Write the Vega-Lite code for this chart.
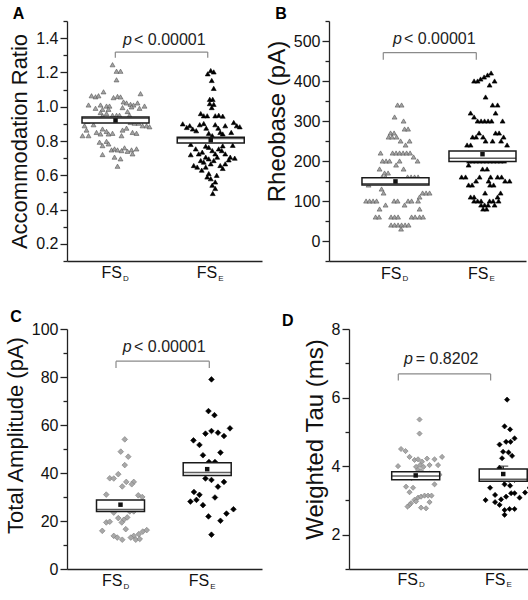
{
"$schema": "https://vega.github.io/schema/vega-lite/v6.json",
"padding": {"left": 4, "top": 6, "right": 0, "bottom": 0},
"config": {
 "font": "Liberation Sans",
 "view": {"stroke": null},
 "axis": {"grid": false, "domainColor": "#222222", "domainWidth": 1.3, "tickColor": "#222222", "tickWidth": 1.3, "labelColor": "#111111", "labelFontSize": 16, "labelPadding": 2, "titleColor": "#111111", "titleFontWeight": "normal", "titlePadding": 4, "labelOverlap": false, "labelFlush": false},
 "axisY": {"tickCount": 100},
 "title": {"anchor": "start", "frame": "bounds", "fontSize": 16, "fontWeight": "bold", "color": "#000000"},
 "text": {"font": "Liberation Sans", "color": "#222222"}
},
"datasets": {
 "A": [
{"g":"D","v":1.245,"j":-3},{"g":"D","v":1.207,"j":1},{"g":"D","v":1.207,"j":5},{"g":"D","v":1.157,"j":1},{"g":"D","v":1.087,"j":-12},{"g":"D","v":1.076,"j":25},{"g":"D","v":1.064,"j":-24},{"g":"D","v":1.058,"j":-20},{"g":"D","v":1.064,"j":-17},{"g":"D","v":1.053,"j":-2},{"g":"D","v":1.06,"j":2},{"g":"D","v":1.057,"j":5},{"g":"D","v":1.028,"j":8},{"g":"D","v":1.022,"j":11},{"g":"D","v":1.014,"j":15},{"g":"D","v":1.01,"j":18},{"g":"D","v":1.022,"j":22},{"g":"D","v":1.01,"j":-27},{"g":"D","v":1.01,"j":-15},{"g":"D","v":1.004,"j":-9},{"g":"D","v":1.004,"j":-6},{"g":"D","v":0.991,"j":-20},{"g":"D","v":0.985,"j":-13},{"g":"D","v":0.985,"j":-7},{"g":"D","v":0.995,"j":7},{"g":"D","v":0.999,"j":16},{"g":"D","v":1.004,"j":29},{"g":"D","v":0.991,"j":24},{"g":"D","v":0.966,"j":-15},{"g":"D","v":0.972,"j":12},{"g":"D","v":0.947,"j":-13},{"g":"D","v":0.95,"j":-3},{"g":"D","v":0.95,"j":1},{"g":"D","v":0.95,"j":4},{"g":"D","v":0.95,"j":14},{"g":"D","v":0.96,"j":-9},{"g":"D","v":0.908,"j":15},{"g":"D","v":0.904,"j":19},{"g":"D","v":0.904,"j":23},{"g":"D","v":0.889,"j":27},{"g":"D","v":0.889,"j":31},{"g":"D","v":0.895,"j":-22},{"g":"D","v":0.864,"j":-29},{"g":"D","v":0.831,"j":-33},{"g":"D","v":0.831,"j":-27},{"g":"D","v":0.85,"j":-19},{"g":"D","v":0.841,"j":-15},{"g":"D","v":0.87,"j":-13},{"g":"D","v":0.856,"j":-9},{"g":"D","v":0.841,"j":-7},{"g":"D","v":0.845,"j":-3},{"g":"D","v":0.864,"j":7},{"g":"D","v":0.875,"j":11},{"g":"D","v":0.85,"j":17},{"g":"D","v":0.845,"j":21},{"g":"D","v":0.831,"j":6},{"g":"D","v":0.793,"j":-16},{"g":"D","v":0.798,"j":-9},{"g":"D","v":0.783,"j":-7},{"g":"D","v":0.773,"j":-13},{"g":"D","v":0.748,"j":-4},{"g":"D","v":0.754,"j":-1},{"g":"D","v":0.748,"j":2},{"g":"D","v":0.744,"j":6},{"g":"D","v":0.76,"j":9},{"g":"D","v":0.74,"j":12},{"g":"D","v":0.748,"j":16},{"g":"D","v":0.754,"j":21},{"g":"D","v":0.725,"j":17},{"g":"D","v":0.721,"j":-13},{"g":"D","v":0.706,"j":-1},{"g":"D","v":0.696,"j":5},{"g":"D","v":0.653,"j":2},{"g":"D","v":0.915,"j":-28},{"g":"D","v":0.92,"j":30},{"g":"D","v":0.889,"j":-31},{"g":"D","v":0.883,"j":34},
{"g":"E","v":1.211,"j":0},{"g":"E","v":1.192,"j":-3},{"g":"E","v":1.203,"j":3},{"g":"E","v":1.153,"j":1},{"g":"E","v":1.107,"j":3},{"g":"E","v":1.043,"j":2},{"g":"E","v":1.018,"j":-1},{"g":"E","v":1.014,"j":3},{"g":"E","v":0.995,"j":1},{"g":"E","v":1.043,"j":-1},{"g":"E","v":0.947,"j":-7},{"g":"E","v":0.947,"j":-3.5},{"g":"E","v":0.947,"j":4.5},{"g":"E","v":0.95,"j":8},{"g":"E","v":0.945,"j":12},{"g":"E","v":0.96,"j":-10},{"g":"E","v":0.889,"j":-21},{"g":"E","v":0.87,"j":-18},{"g":"E","v":0.895,"j":-11},{"g":"E","v":0.902,"j":-7},{"g":"E","v":0.875,"j":-4.5},{"g":"E","v":0.895,"j":4.5},{"g":"E","v":0.875,"j":7.5},{"g":"E","v":0.889,"j":14.5},{"g":"E","v":0.908,"j":23},{"g":"E","v":0.889,"j":26},{"g":"E","v":0.883,"j":29},{"g":"E","v":0.85,"j":9.5},{"g":"E","v":0.841,"j":12},{"g":"E","v":0.85,"j":20.5},{"g":"E","v":0.831,"j":1.5},{"g":"E","v":0.845,"j":-2},{"g":"E","v":0.86,"j":-14.5},{"g":"E","v":0.879,"j":-24},{"g":"E","v":0.9,"j":-28},{"g":"E","v":0.763,"j":-2},{"g":"E","v":0.754,"j":-15},{"g":"E","v":0.754,"j":8},{"g":"E","v":0.744,"j":1.5},{"g":"E","v":0.744,"j":11},{"g":"E","v":0.735,"j":-8.5},{"g":"E","v":0.725,"j":-12},{"g":"E","v":0.725,"j":4.5},{"g":"E","v":0.725,"j":14.5},{"g":"E","v":0.706,"j":-5},{"g":"E","v":0.706,"j":6.5},{"g":"E","v":0.706,"j":19.5},{"g":"E","v":0.696,"j":-2},{"g":"E","v":0.69,"j":18},{"g":"E","v":0.686,"j":-10},{"g":"E","v":0.686,"j":3},{"g":"E","v":0.677,"j":-7},{"g":"E","v":0.667,"j":0},{"g":"E","v":0.667,"j":14.5},{"g":"E","v":0.657,"j":-17},{"g":"E","v":0.657,"j":9.5},{"g":"E","v":0.648,"j":-13.5},{"g":"E","v":0.648,"j":-5},{"g":"E","v":0.59,"j":-3.5},{"g":"E","v":0.58,"j":0},{"g":"E","v":0.561,"j":4.5},{"g":"E","v":0.542,"j":1.5},{"g":"E","v":0.523,"j":4.5},{"g":"E","v":0.494,"j":2},{"g":"E","v":0.78,"j":-20},{"g":"E","v":0.775,"j":22},{"g":"E","v":0.77,"j":-5},{"g":"E","v":0.772,"j":12},{"g":"E","v":0.72,"j":-20},{"g":"E","v":0.7,"j":24},{"g":"E","v":0.64,"j":12},{"g":"E","v":0.63,"j":-9},{"g":"E","v":0.6,"j":6},{"g":"E","v":0.61,"j":-2}
 ],
 "B": [
{"g":"D","v":340,"j":-2},{"g":"D","v":340,"j":2},{"g":"D","v":310,"j":-5},{"g":"D","v":300,"j":4},{"g":"D","v":280,"j":5},{"g":"D","v":280,"j":8.5},{"g":"D","v":270,"j":-9},{"g":"D","v":270,"j":-5.5},{"g":"D","v":260,"j":-11},{"g":"D","v":260,"j":-7.5},{"g":"D","v":260,"j":-3},{"g":"D","v":250,"j":1},{"g":"D","v":250,"j":10},{"g":"D","v":240,"j":6},{"g":"D","v":220,"j":-19},{"g":"D","v":220,"j":-7},{"g":"D","v":220,"j":-3.5},{"g":"D","v":220,"j":0},{"g":"D","v":220,"j":3.5},{"g":"D","v":220,"j":7},{"g":"D","v":220,"j":10.5},{"g":"D","v":210,"j":14},{"g":"D","v":200,"j":-17},{"g":"D","v":200,"j":-13.5},{"g":"D","v":200,"j":-10},{"g":"D","v":200,"j":0},{"g":"D","v":200,"j":18},{"g":"D","v":190,"j":-3.5},{"g":"D","v":180,"j":-20},{"g":"D","v":180,"j":4},{"g":"D","v":170,"j":-15},{"g":"D","v":170,"j":-11.5},{"g":"D","v":160,"j":-17.5},{"g":"D","v":160,"j":-14},{"g":"D","v":160,"j":8},{"g":"D","v":160,"j":11.5},{"g":"D","v":160,"j":15},{"g":"D","v":160,"j":18.5},{"g":"D","v":140,"j":-31},{"g":"D","v":130,"j":-18},{"g":"D","v":120,"j":-16},{"g":"D","v":120,"j":23},{"g":"D","v":120,"j":26.5},{"g":"D","v":120,"j":30},{"g":"D","v":110,"j":20},{"g":"D","v":100,"j":-33.5},{"g":"D","v":100,"j":-30},{"g":"D","v":100,"j":-26.5},{"g":"D","v":100,"j":-23},{"g":"D","v":100,"j":-5.5},{"g":"D","v":100,"j":-2},{"g":"D","v":100,"j":8.5},{"g":"D","v":100,"j":12},{"g":"D","v":100,"j":18.5},{"g":"D","v":90,"j":-14},{"g":"D","v":90,"j":5},{"g":"D","v":80,"j":-20},{"g":"D","v":80,"j":20},{"g":"D","v":60,"j":-24},{"g":"D","v":60,"j":-20.5},{"g":"D","v":60,"j":-8.5},{"g":"D","v":60,"j":-5},{"g":"D","v":60,"j":-1.5},{"g":"D","v":60,"j":12},{"g":"D","v":60,"j":15.5},{"g":"D","v":60,"j":20},{"g":"D","v":60,"j":23.5},{"g":"D","v":40,"j":-8.5},{"g":"D","v":40,"j":-5},{"g":"D","v":40,"j":-1.5},{"g":"D","v":40,"j":2},{"g":"D","v":40,"j":5.5},{"g":"D","v":40,"j":9},{"g":"D","v":30,"j":1.5},
{"g":"E","v":420,"j":4.5},{"g":"E","v":415,"j":1},{"g":"E","v":410,"j":-2.5},{"g":"E","v":405,"j":-6},{"g":"E","v":400,"j":-9},{"g":"E","v":400,"j":-12.5},{"g":"E","v":400,"j":8},{"g":"E","v":390,"j":3},{"g":"E","v":360,"j":-1},{"g":"E","v":340,"j":6},{"g":"E","v":340,"j":11},{"g":"E","v":320,"j":-16},{"g":"E","v":320,"j":9},{"g":"E","v":310,"j":-12.5},{"g":"E","v":300,"j":-9},{"g":"E","v":300,"j":-5.5},{"g":"E","v":300,"j":-2},{"g":"E","v":300,"j":1.5},{"g":"E","v":300,"j":5},{"g":"E","v":300,"j":16},{"g":"E","v":270,"j":-7.5},{"g":"E","v":270,"j":9},{"g":"E","v":270,"j":12.5},{"g":"E","v":260,"j":-14},{"g":"E","v":260,"j":-10.5},{"g":"E","v":260,"j":-3.5},{"g":"E","v":260,"j":17},{"g":"E","v":250,"j":-1},{"g":"E","v":250,"j":6},{"g":"E","v":250,"j":14.5},{"g":"E","v":240,"j":-19.5},{"g":"E","v":240,"j":-16},{"g":"E","v":240,"j":20.5},{"g":"E","v":220,"j":-18},{"g":"E","v":200,"j":-17.5},{"g":"E","v":200,"j":-14},{"g":"E","v":200,"j":-10.5},{"g":"E","v":200,"j":-7},{"g":"E","v":200,"j":-3.5},{"g":"E","v":200,"j":0},{"g":"E","v":200,"j":3.5},{"g":"E","v":200,"j":7},{"g":"E","v":200,"j":10.5},{"g":"E","v":200,"j":14},{"g":"E","v":200,"j":17.5},{"g":"E","v":190,"j":-18},{"g":"E","v":180,"j":-4},{"g":"E","v":180,"j":0.5},{"g":"E","v":160,"j":-25},{"g":"E","v":160,"j":-21},{"g":"E","v":160,"j":-7},{"g":"E","v":160,"j":4},{"g":"E","v":160,"j":11},{"g":"E","v":160,"j":15},{"g":"E","v":150,"j":-10.5},{"g":"E","v":150,"j":2},{"g":"E","v":150,"j":18.5},{"g":"E","v":150,"j":23},{"g":"E","v":140,"j":-18},{"g":"E","v":140,"j":-14.5},{"g":"E","v":140,"j":3.5},{"g":"E","v":140,"j":7},{"g":"E","v":120,"j":-1.5},{"g":"E","v":120,"j":14},{"g":"E","v":110,"j":-16},{"g":"E","v":110,"j":-12.5},{"g":"E","v":110,"j":11},{"g":"E","v":100,"j":-12.5},{"g":"E","v":100,"j":-9},{"g":"E","v":100,"j":-5.5},{"g":"E","v":100,"j":3},{"g":"E","v":100,"j":6.5},{"g":"E","v":100,"j":12},{"g":"E","v":90,"j":-5.5},{"g":"E","v":90,"j":-2},{"g":"E","v":90,"j":1.5},{"g":"E","v":90,"j":8},{"g":"E","v":80,"j":-3.5},{"g":"E","v":80,"j":0}
 ],
 "C": [
{"g":"D","v":54,"j":0},{"g":"D","v":48.9,"j":-4},{"g":"D","v":46.8,"j":3.5},{"g":"D","v":43.3,"j":0},{"g":"D","v":37.8,"j":-15},{"g":"D","v":37.7,"j":-11},{"g":"D","v":39.5,"j":-6.5},{"g":"D","v":36.3,"j":1.5},{"g":"D","v":36.3,"j":9},{"g":"D","v":35.3,"j":7},{"g":"D","v":34.4,"j":-2.5},{"g":"D","v":31,"j":-18.5},{"g":"D","v":30.7,"j":13.5},{"g":"D","v":30,"j":17.5},{"g":"D","v":23.5,"j":-11},{"g":"D","v":24,"j":5},{"g":"D","v":24,"j":9},{"g":"D","v":21.2,"j":-6.5},{"g":"D","v":20.5,"j":-1},{"g":"D","v":21.5,"j":2.5},{"g":"D","v":19.4,"j":-18.5},{"g":"D","v":19.7,"j":-15},{"g":"D","v":19.4,"j":-3},{"g":"D","v":15.9,"j":-22.5},{"g":"D","v":16.6,"j":1},{"g":"D","v":13.8,"j":-11},{"g":"D","v":13.1,"j":-7.5},{"g":"D","v":12.2,"j":-2.5},{"g":"D","v":13.8,"j":9},{"g":"D","v":13.1,"j":6},{"g":"D","v":14.5,"j":14},{"g":"D","v":15.6,"j":18},{"g":"D","v":16.2,"j":22},{"g":"D","v":12.2,"j":11},{"g":"D","v":12.5,"j":15},
{"g":"E","v":79,"j":0},{"g":"E","v":65.8,"j":-3},{"g":"E","v":64.1,"j":3},{"g":"E","v":58.6,"j":18.5},{"g":"E","v":56.4,"j":-6},{"g":"E","v":57.5,"j":0},{"g":"E","v":56.8,"j":6.5},{"g":"E","v":55.4,"j":12.5},{"g":"E","v":53.6,"j":-18},{"g":"E","v":51.7,"j":-12},{"g":"E","v":47.4,"j":-8.5},{"g":"E","v":48.5,"j":9},{"g":"E","v":44.6,"j":-2.5},{"g":"E","v":44.6,"j":3.5},{"g":"E","v":37.7,"j":-6},{"g":"E","v":37.1,"j":0},{"g":"E","v":34.3,"j":6.5},{"g":"E","v":36.3,"j":12.5},{"g":"E","v":32.1,"j":-17.5},{"g":"E","v":30.9,"j":-12},{"g":"E","v":28.1,"j":-21},{"g":"E","v":28.8,"j":-15},{"g":"E","v":29.8,"j":3.5},{"g":"E","v":26.6,"j":-8.5},{"g":"E","v":21.9,"j":-3},{"g":"E","v":20.1,"j":9},{"g":"E","v":23.1,"j":15},{"g":"E","v":24.9,"j":22},{"g":"E","v":14.3,"j":0},{"g":"E","v":41,"j":-13}
 ],
 "D": [
{"g":"D","v":5.36,"j":0},{"g":"D","v":4.95,"j":0},{"g":"D","v":4.5,"j":-18.5},{"g":"D","v":4.44,"j":-14},{"g":"D","v":4.27,"j":-10},{"g":"D","v":4.18,"j":-5},{"g":"D","v":4.2,"j":-1.5},{"g":"D","v":4.13,"j":2.5},{"g":"D","v":4.22,"j":7.5},{"g":"D","v":4.2,"j":15},{"g":"D","v":4.03,"j":18.5},{"g":"D","v":4.27,"j":22.5},{"g":"D","v":4.0,"j":-21.5},{"g":"D","v":3.98,"j":-3.5},{"g":"D","v":4.03,"j":0.5},{"g":"D","v":3.98,"j":4},{"g":"D","v":4.03,"j":10},{"g":"D","v":3.89,"j":-1.5},{"g":"D","v":3.86,"j":1.5},{"g":"D","v":3.47,"j":15},{"g":"D","v":3.4,"j":-13.5},{"g":"D","v":3.37,"j":-6.5},{"g":"D","v":3.24,"j":-10},{"g":"D","v":3.08,"j":-1.5},{"g":"D","v":3.11,"j":1.5},{"g":"D","v":3.14,"j":5},{"g":"D","v":3.14,"j":8.5},{"g":"D","v":3.14,"j":12},{"g":"D","v":3.02,"j":-5},{"g":"D","v":2.92,"j":-8.5},{"g":"D","v":2.87,"j":-10},{"g":"D","v":2.97,"j":-3.5},{"g":"D","v":2.95,"j":10},{"g":"D","v":2.82,"j":-12},{"g":"D","v":2.79,"j":1.5},{"g":"D","v":2.77,"j":6.5},{"g":"D","v":3.7,"j":-20},{"g":"D","v":3.75,"j":20},{"g":"D","v":3.65,"j":-8},{"g":"D","v":3.78,"j":10},
{"g":"E","v":5.94,"j":0},{"g":"E","v":5.16,"j":-2.5},{"g":"E","v":5.07,"j":3},{"g":"E","v":4.81,"j":7.5},{"g":"E","v":4.63,"j":-7.5},{"g":"E","v":4.71,"j":-1},{"g":"E","v":4.71,"j":3.5},{"g":"E","v":4.42,"j":-4},{"g":"E","v":4.4,"j":1.5},{"g":"E","v":4.23,"j":-5},{"g":"E","v":4.3,"j":5},{"g":"E","v":3.95,"j":-7.5},{"g":"E","v":3.6,"j":-3.5},{"g":"E","v":3.6,"j":2},{"g":"E","v":3.6,"j":7.5},{"g":"E","v":3.37,"j":-17},{"g":"E","v":3.47,"j":-2.5},{"g":"E","v":3.43,"j":3},{"g":"E","v":3.37,"j":22.5},{"g":"E","v":3.23,"j":18},{"g":"E","v":3.08,"j":12.5},{"g":"E","v":3.16,"j":-12},{"g":"E","v":3.03,"j":-6},{"g":"E","v":3.11,"j":-1},{"g":"E","v":3.01,"j":-21.5},{"g":"E","v":3.21,"j":4},{"g":"E","v":3.21,"j":7.5},{"g":"E","v":2.87,"j":-7.5},{"g":"E","v":2.72,"j":-2.5},{"g":"E","v":2.75,"j":2.5},{"g":"E","v":2.75,"j":7.5},{"g":"E","v":2.58,"j":-2.5},{"g":"E","v":3.7,"j":-18},{"g":"E","v":3.8,"j":15},{"g":"E","v":3.85,"j":-10},{"g":"E","v":2.95,"j":-12}
 ],
 "Abox": [{"g":"D","lo":0.905,"hi":0.94,"med":0.933,"mean":0.92},{"g":"E","lo":0.788,"hi":0.822,"med":0.815,"mean":0.805}],
 "Bbox": [{"g":"D","lo":140,"hi":158,"med":143,"mean":149},{"g":"E","lo":199,"hi":225,"med":207,"mean":217}],
 "Cbox": [{"g":"D","lo":24,"hi":28.7,"med":24.8,"mean":26.8},{"g":"E","lo":39,"hi":44.3,"med":40.2,"mean":41.6}],
 "Dbox": [{"g":"D","lo":3.6,"hi":3.84,"med":3.71,"mean":3.73},{"g":"E","lo":3.56,"hi":3.92,"med":3.62,"mean":3.77}],
 "grp": [{"g":"D"},{"g":"E"}],
 "one": [{"k":1}]
},
"spacing": 26,
"vconcat": [
 {"spacing": 3, "hconcat": [
  {"width": 195, "height": 240, "title": {"text": "A", "dx": 4, "offset": -9},
   "layer": [
    {"data": {"name": "A"},
     "mark": {"type": "point", "shape": "triangle-up", "filled": true, "size": 24, "strokeWidth": 0.6, "opacity": 1},
     "encoding": {
      "x": {"field": "g", "type": "nominal", "scale": {"type": "band", "domain": ["D","E"], "paddingInner": 0, "paddingOuter": 0.024, "align": 0.2}, "axis": {"title": null, "labels": false, "ticks": false, "domain": true}},
      "xOffset": {"field": "j", "type": "quantitative", "scale": {"domain": [-47.6, 47.6]}},
      "y": {"field": "v", "type": "quantitative", "scale": {"domain": [0.1, 1.5], "nice": false, "zero": false},
        "axis": {"title": "Accommodation Ratio", "titleFontSize": 22, "tickCount": 100, "values": [0.1,0.2,0.3,0.4,0.5,0.6,0.7,0.8,0.9,1.0,1.1,1.2,1.3,1.4,1.5],
          "labelExpr": "abs(datum.value*5 - round(datum.value*5)) < 0.01 ? format(datum.value, '.1f') : ''",
          "tickSize": {"condition": {"test": "abs(datum.value*5 - round(datum.value*5)) < 0.01", "value": 7}, "value": 4}}},
      "fill": {"condition": {"test": "datum.g == 'D'", "value": "#a3a3a3"}, "value": "#000000"},
      "stroke": {"condition": {"test": "datum.g == 'D'", "value": "#555555"}, "value": "#000000"}
     }},
    {"data": {"name": "Abox"}, "mark": {"type": "bar", "width": 67, "fill": "#ffffff", "stroke": "#1a1a1a", "strokeWidth": 1.5},
     "encoding": {"x": {"field": "g", "type": "nominal"}, "y": {"field": "lo", "type": "quantitative"}, "y2": {"field": "hi"}}},
    {"data": {"name": "Abox"}, "mark": {"type": "tick", "orient": "horizontal", "size": 67, "thickness": 1.5, "color": "#1a1a1a"},
     "encoding": {"x": {"field": "g", "type": "nominal"}, "y": {"field": "med", "type": "quantitative"}}},
    {"data": {"name": "Abox"}, "mark": {"type": "point", "shape": "square", "filled": true, "size": 20, "color": "#111111", "opacity": 1},
     "encoding": {"x": {"field": "g", "type": "nominal"}, "y": {"field": "mean", "type": "quantitative"}}},
    {"data": {"name": "one"}, "mark": {"type": "rule", "color": "#8a8a8a", "strokeWidth": 1.2, "xOffset": -0.2, "x2Offset": -3},
     "encoding": {"x": {"datum": "D", "bandPosition": 0.5}, "x2": {"datum": "E", "bandPosition": 0.5}, "y": {"datum": 1.319}}},
    {"data": {"name": "one"}, "mark": {"type": "rule", "color": "#8a8a8a", "strokeWidth": 1.2, "xOffset": -0.2},
     "encoding": {"x": {"datum": "D", "bandPosition": 0.5}, "y": {"datum": 1.319}, "y2": {"datum": 1.285}}},
    {"data": {"name": "one"}, "mark": {"type": "rule", "color": "#8a8a8a", "strokeWidth": 1.2, "xOffset": -3},
     "encoding": {"x": {"datum": "E", "bandPosition": 0.5}, "y": {"datum": 1.319}, "y2": {"datum": 1.285}}},
    {"data": {"name": "one"}, "mark": {"type": "text", "text": "p", "fontStyle": "italic", "fontSize": 16, "align": "left", "baseline": "alphabetic", "dx": 7.5},
     "encoding": {"x": {"datum": "D", "bandPosition": 0.5}, "y": {"datum": 1.361}}},
    {"data": {"name": "one"}, "mark": {"type": "text", "text": "< 0.00001", "fontSize": 16, "align": "left", "baseline": "alphabetic", "dx": 18.5},
     "encoding": {"x": {"datum": "D", "bandPosition": 0.5}, "y": {"datum": 1.361}}},
    {"data": {"name": "grp"}, "mark": {"type": "text", "text": "FS", "fontSize": 16, "align": "right", "baseline": "alphabetic", "dx": 6.5, "dy": 17, "color": "#111111"},
     "encoding": {"x": {"field": "g", "type": "nominal"}, "y": {"datum": 0.1}}},
    {"data": {"name": "grp"}, "mark": {"type": "text", "fontSize": 8, "align": "left", "baseline": "alphabetic", "dx": 7.5, "dy": 19.5, "color": "#111111"},
     "encoding": {"x": {"field": "g", "type": "nominal"}, "y": {"datum": 0.1}, "text": {"field": "g"}}}
   ]},
  {"width": 197, "height": 240, "title": {"text": "B", "dx": 10, "offset": -9},
   "layer": [
    {"data": {"name": "B"},
     "mark": {"type": "point", "shape": "triangle-up", "filled": true, "size": 24, "strokeWidth": 0.6, "opacity": 1},
     "encoding": {
      "x": {"field": "g", "type": "nominal", "scale": {"type": "band", "domain": ["D","E"], "paddingInner": 0, "paddingOuter": 0.132, "align": 1}, "axis": {"title": null, "labels": false, "ticks": false, "domain": true}},
      "xOffset": {"field": "j", "type": "quantitative", "scale": {"domain": [-43.5, 43.5]}},
      "y": {"field": "v", "type": "quantitative", "scale": {"domain": [-50, 550], "nice": false, "zero": false},
        "axis": {"title": "Rheobase (pA)", "titleFontSize": 24, "titleY": 100, "tickCount": 100, "values": [-50,0,50,100,150,200,250,300,350,400,450,500,550],
          "labelExpr": "datum.value % 100 == 0 ? format(datum.value, 'd') : ''",
          "tickSize": {"condition": {"test": "datum.value % 100 == 0", "value": 7}, "value": 4}}},
      "fill": {"condition": {"test": "datum.g == 'D'", "value": "#a3a3a3"}, "value": "#000000"},
      "stroke": {"condition": {"test": "datum.g == 'D'", "value": "#555555"}, "value": "#000000"}
     }},
    {"data": {"name": "Bbox"}, "mark": {"type": "bar", "width": 67, "fill": "#ffffff", "stroke": "#1a1a1a", "strokeWidth": 1.5},
     "encoding": {"x": {"field": "g", "type": "nominal"}, "y": {"field": "lo", "type": "quantitative"}, "y2": {"field": "hi"}}},
    {"data": {"name": "Bbox"}, "mark": {"type": "tick", "orient": "horizontal", "size": 67, "thickness": 1.5, "color": "#1a1a1a"},
     "encoding": {"x": {"field": "g", "type": "nominal"}, "y": {"field": "med", "type": "quantitative"}}},
    {"data": {"name": "Bbox"}, "mark": {"type": "point", "shape": "square", "filled": true, "size": 20, "color": "#111111", "opacity": 1},
     "encoding": {"x": {"field": "g", "type": "nominal"}, "y": {"field": "mean", "type": "quantitative"}}},
    {"data": {"name": "one"}, "mark": {"type": "rule", "color": "#8a8a8a", "strokeWidth": 1.2, "xOffset": -12.2, "x2Offset": -6.2},
     "encoding": {"x": {"datum": "D", "bandPosition": 0.5}, "x2": {"datum": "E", "bandPosition": 0.5}, "y": {"datum": 471}}},
    {"data": {"name": "one"}, "mark": {"type": "rule", "color": "#8a8a8a", "strokeWidth": 1.2, "xOffset": -12.2},
     "encoding": {"x": {"datum": "D", "bandPosition": 0.5}, "y": {"datum": 471}, "y2": {"datum": 453}}},
    {"data": {"name": "one"}, "mark": {"type": "rule", "color": "#8a8a8a", "strokeWidth": 1.2, "xOffset": -6.2},
     "encoding": {"x": {"datum": "E", "bandPosition": 0.5}, "y": {"datum": 471}, "y2": {"datum": 453}}},
    {"data": {"name": "one"}, "mark": {"type": "text", "text": "p", "fontStyle": "italic", "fontSize": 16, "align": "left", "baseline": "alphabetic", "dx": -2.5},
     "encoding": {"x": {"datum": "D", "bandPosition": 0.5}, "y": {"datum": 492}}},
    {"data": {"name": "one"}, "mark": {"type": "text", "text": "< 0.00001", "fontSize": 16, "align": "left", "baseline": "alphabetic", "dx": 8.5},
     "encoding": {"x": {"datum": "D", "bandPosition": 0.5}, "y": {"datum": 492}}},
    {"data": {"name": "grp"}, "mark": {"type": "text", "text": "FS", "fontSize": 16, "align": "right", "baseline": "alphabetic", "dx": 6, "dy": 17.6, "color": "#111111"},
     "encoding": {"x": {"field": "g", "type": "nominal"}, "y": {"datum": -50}}},
    {"data": {"name": "grp"}, "mark": {"type": "text", "fontSize": 8, "align": "left", "baseline": "alphabetic", "dx": 7, "dy": 20, "color": "#111111"},
     "encoding": {"x": {"field": "g", "type": "nominal"}, "y": {"datum": -50}, "text": {"field": "g"}}}
   ]}
 ]},
 {"spacing": 20, "hconcat": [
  {"width": 195, "height": 240, "title": {"text": "C", "dx": 6, "offset": -4},
   "layer": [
    {"data": {"name": "C"},
     "mark": {"type": "point", "shape": "diamond", "filled": true, "size": 32, "strokeWidth": 0.6, "opacity": 1},
     "encoding": {
      "x": {"field": "g", "type": "nominal", "scale": {"type": "band", "domain": ["D","E"], "paddingInner": 0, "paddingOuter": 0.1246, "align": 0.47}, "axis": {"title": null, "labels": false, "ticks": false, "domain": true}},
      "xOffset": {"field": "j", "type": "quantitative", "scale": {"domain": [-43.35, 43.35]}},
      "y": {"field": "v", "type": "quantitative", "scale": {"domain": [0, 100], "nice": false, "zero": false},
        "axis": {"title": "Total Amplitude (pA)", "titleFontSize": 22, "titleY": 106, "tickCount": 100, "values": [0,10,20,30,40,50,60,70,80,90,100],
          "labelExpr": "datum.value % 20 == 0 ? format(datum.value, 'd') : ''",
          "tickSize": {"condition": {"test": "datum.value % 20 == 0", "value": 7}, "value": 4}}},
      "fill": {"condition": {"test": "datum.g == 'D'", "value": "#a8a8a8"}, "value": "#000000"},
      "stroke": {"condition": {"test": "datum.g == 'D'", "value": "#7a7a7a"}, "value": "#000000"}
     }},
    {"data": {"name": "Cbox"}, "mark": {"type": "bar", "width": 48, "fill": "#ffffff", "stroke": "#1a1a1a", "strokeWidth": 1.5},
     "encoding": {"x": {"field": "g", "type": "nominal"}, "y": {"field": "lo", "type": "quantitative"}, "y2": {"field": "hi"}}},
    {"data": {"name": "Cbox"}, "mark": {"type": "tick", "orient": "horizontal", "size": 48, "thickness": 1.5, "color": "#1a1a1a"},
     "encoding": {"x": {"field": "g", "type": "nominal"}, "y": {"field": "med", "type": "quantitative"}}},
    {"data": {"name": "Cbox"}, "mark": {"type": "point", "shape": "square", "filled": true, "size": 20, "color": "#111111", "opacity": 1},
     "encoding": {"x": {"field": "g", "type": "nominal"}, "y": {"field": "mean", "type": "quantitative"}}},
    {"data": {"name": "one"}, "mark": {"type": "rule", "color": "#8a8a8a", "strokeWidth": 1.2, "xOffset": -4.5, "x2Offset": 2.1},
     "encoding": {"x": {"datum": "D", "bandPosition": 0.5}, "x2": {"datum": "E", "bandPosition": 0.5}, "y": {"datum": 86.6}}},
    {"data": {"name": "one"}, "mark": {"type": "rule", "color": "#8a8a8a", "strokeWidth": 1.2, "xOffset": -4.5},
     "encoding": {"x": {"datum": "D", "bandPosition": 0.5}, "y": {"datum": 86.6}, "y2": {"datum": 83.8}}},
    {"data": {"name": "one"}, "mark": {"type": "rule", "color": "#8a8a8a", "strokeWidth": 1.2, "xOffset": 2.1},
     "encoding": {"x": {"datum": "E", "bandPosition": 0.5}, "y": {"datum": 86.6}, "y2": {"datum": 83.8}}},
    {"data": {"name": "one"}, "mark": {"type": "text", "text": "p", "fontStyle": "italic", "fontSize": 16, "align": "left", "baseline": "alphabetic", "dx": 2.2},
     "encoding": {"x": {"datum": "D", "bandPosition": 0.5}, "y": {"datum": 90.3}}},
    {"data": {"name": "one"}, "mark": {"type": "text", "text": "< 0.00001", "fontSize": 16, "align": "left", "baseline": "alphabetic", "dx": 13.5},
     "encoding": {"x": {"datum": "D", "bandPosition": 0.5}, "y": {"datum": 90.3}}},
    {"data": {"name": "grp"}, "mark": {"type": "text", "text": "FS", "fontSize": 16, "align": "right", "baseline": "alphabetic", "dx": 2, "dy": 17.3, "color": "#111111"},
     "encoding": {"x": {"field": "g", "type": "nominal"}, "y": {"datum": 0}}},
    {"data": {"name": "grp"}, "mark": {"type": "text", "fontSize": 8, "align": "left", "baseline": "alphabetic", "dx": 3, "dy": 19.8, "color": "#111111"},
     "encoding": {"x": {"field": "g", "type": "nominal"}, "y": {"datum": 0}, "text": {"field": "g"}}}
   ]},
  {"width": 198, "height": 240, "title": {"text": "D", "dx": -21, "dy": 4, "offset": -4},
   "layer": [
    {"data": {"name": "D"},
     "mark": {"type": "point", "shape": "diamond", "filled": true, "size": 27, "strokeWidth": 0.6, "opacity": 1},
     "encoding": {
      "x": {"field": "g", "type": "nominal", "scale": {"type": "band", "domain": ["D","E"], "paddingInner": 0, "paddingOuter": 0.131, "align": 1}, "axis": {"title": null, "labels": false, "ticks": false, "domain": true}},
      "xOffset": {"field": "j", "type": "quantitative", "scale": {"domain": [-43.75, 43.75]}},
      "y": {"field": "v", "type": "quantitative", "scale": {"domain": [1, 8], "nice": false, "zero": false},
        "axis": {"title": "Weighted Tau (ms)", "titleFontSize": 24, "titleY": 110, "tickCount": 100, "values": [1,2,3,4,5,6,7,8],
          "labelExpr": "datum.value % 2 == 0 ? format(datum.value, 'd') : ''",
          "tickSize": {"condition": {"test": "datum.value % 2 == 0", "value": 7}, "value": 4}}},
      "fill": {"condition": {"test": "datum.g == 'D'", "value": "#a8a8a8"}, "value": "#000000"},
      "stroke": {"condition": {"test": "datum.g == 'D'", "value": "#7a7a7a"}, "value": "#000000"}
     }},
    {"data": {"name": "one"}, "mark": {"type": "rule", "color": "#1a1a1a", "strokeWidth": 1.3},
     "encoding": {"x": {"datum": "E", "bandPosition": 0.5}, "y": {"datum": 3.92}, "y2": {"datum": 4.0}}},
    {"data": {"name": "one"}, "mark": {"type": "tick", "orient": "horizontal", "size": 10, "thickness": 1.3, "color": "#1a1a1a"},
     "encoding": {"x": {"datum": "E", "bandPosition": 0.5}, "y": {"datum": 4.0}}},
    {"data": {"name": "Dbox"}, "mark": {"type": "bar", "width": 48, "fill": "#ffffff", "stroke": "#1a1a1a", "strokeWidth": 1.5},
     "encoding": {"x": {"field": "g", "type": "nominal"}, "y": {"field": "lo", "type": "quantitative"}, "y2": {"field": "hi"}}},
    {"data": {"name": "Dbox"}, "mark": {"type": "tick", "orient": "horizontal", "size": 48, "thickness": 1.5, "color": "#1a1a1a"},
     "encoding": {"x": {"field": "g", "type": "nominal"}, "y": {"field": "med", "type": "quantitative"}}},
    {"data": {"name": "Dbox"}, "mark": {"type": "point", "shape": "square", "filled": true, "size": 20, "color": "#111111", "opacity": 1},
     "encoding": {"x": {"field": "g", "type": "nominal"}, "y": {"field": "mean", "type": "quantitative"}}},
    {"data": {"name": "one"}, "mark": {"type": "rule", "color": "#8a8a8a", "strokeWidth": 1.2, "xOffset": -17.4, "x2Offset": -12.6},
     "encoding": {"x": {"datum": "D", "bandPosition": 0.5}, "x2": {"datum": "E", "bandPosition": 0.5}, "y": {"datum": 6.69}}},
    {"data": {"name": "one"}, "mark": {"type": "rule", "color": "#8a8a8a", "strokeWidth": 1.2, "xOffset": -17.4},
     "encoding": {"x": {"datum": "D", "bandPosition": 0.5}, "y": {"datum": 6.69}, "y2": {"datum": 6.5}}},
    {"data": {"name": "one"}, "mark": {"type": "rule", "color": "#8a8a8a", "strokeWidth": 1.2, "xOffset": -12.6},
     "encoding": {"x": {"datum": "E", "bandPosition": 0.5}, "y": {"datum": 6.69}, "y2": {"datum": 6.5}}},
    {"data": {"name": "one"}, "mark": {"type": "text", "text": "p", "fontStyle": "italic", "fontSize": 16, "align": "left", "baseline": "alphabetic", "dx": -11.8},
     "encoding": {"x": {"datum": "D", "bandPosition": 0.5}, "y": {"datum": 6.98}}},
    {"data": {"name": "one"}, "mark": {"type": "text", "text": "= 0.8202", "fontSize": 16, "align": "left", "baseline": "alphabetic", "dx": 0},
     "encoding": {"x": {"datum": "D", "bandPosition": 0.5}, "y": {"datum": 6.98}}},
    {"data": {"name": "grp"}, "mark": {"type": "text", "text": "FS", "fontSize": 16, "align": "right", "baseline": "alphabetic", "dx": 2.2, "dy": 15.6, "color": "#111111"},
     "encoding": {"x": {"field": "g", "type": "nominal"}, "y": {"datum": 1}}},
    {"data": {"name": "grp"}, "mark": {"type": "text", "fontSize": 8, "align": "left", "baseline": "alphabetic", "dx": 3.2, "dy": 18, "color": "#111111"},
     "encoding": {"x": {"field": "g", "type": "nominal"}, "y": {"datum": 1}, "text": {"field": "g"}}}
   ]}
 ]}
]
}
